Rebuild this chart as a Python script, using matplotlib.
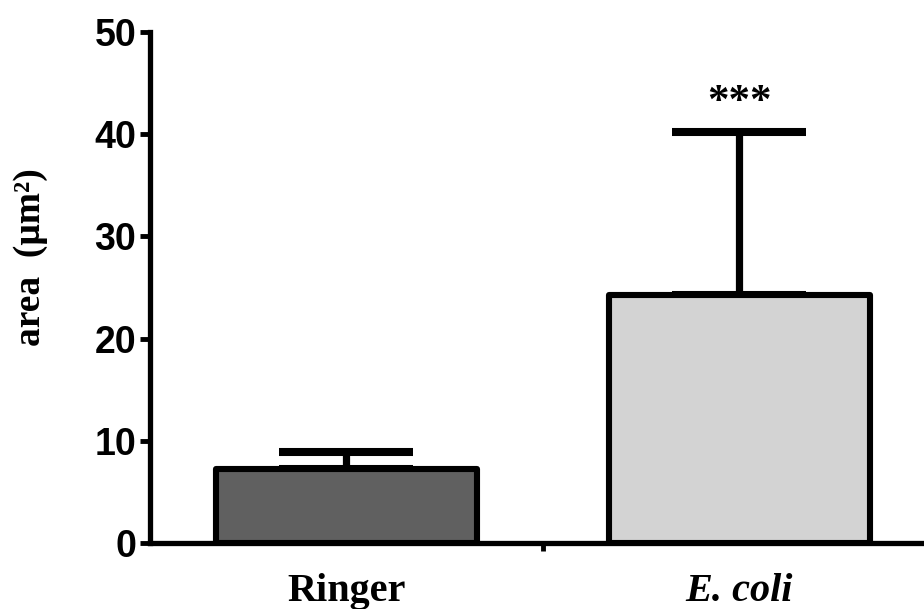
import matplotlib
matplotlib.use("Agg")
import matplotlib.pyplot as plt
from matplotlib import font_manager as fm
from matplotlib.ticker import MultipleLocator

# Mean lesion area with error (SD) for each treatment
categories = ["Ringer", "E. coli"]
means = [7.24, 24.3]
errors = [1.71, 15.9]
fill_colors = ["#606060", "#d3d3d3"]
significance = ["", "***"]


def find_font(name, bold=True, italic=False):
    for f in fm.fontManager.ttflist:
        if f.name == name and (f.weight >= 600) == bold and \
                (f.style != "normal") == italic:
            return fm.FontProperties(fname=f.fname)
    return fm.FontProperties(family=name, weight="bold" if bold else "normal",
                             style="italic" if italic else "normal")


sans_bold = find_font("Liberation Sans", bold=True)
serif_bold = find_font("Liberation Serif", bold=True)
serif_bold_italic = find_font("Liberation Serif", bold=True, italic=True)

DPI = 100
fig = plt.figure(figsize=(9.24, 6.09), dpi=DPI)
ax = fig.add_axes([150 / 924, 66 / 609, 1 - 150 / 924 + 0.002, 511 / 609])

lw = 4.4
x = list(range(len(categories)))
ax.bar(x, means, width=0.665, color=fill_colors, edgecolor="black",
       linewidth=lw, zorder=2, joinstyle="round")
ax.errorbar(x, means, yerr=[[0] * len(errors), errors], fmt="none",
            ecolor="black", elinewidth=5.2, capsize=48, capthick=5.8,
            zorder=1)

for xi, m, e, s in zip(x, means, errors, significance):
    if s:
        fp = serif_bold.copy()
        fp.set_size(31)
        ax.annotate(s, (xi, m + e), xytext=(0, 14), textcoords="offset points",
                    ha="center", va="baseline", fontproperties=fp)

ax.set_xlim(-0.5, 1.475)
ax.set_ylim(0, 50)
ax.yaxis.set_major_locator(MultipleLocator(10))
ax.set_xticks([0.5])
ax.set_xticklabels([""])
ax.tick_params(axis="x", direction="out", length=6, width=3.5)
ax.tick_params(axis="y", direction="out", length=7, width=3.5, pad=3)
tick_fp = sans_bold.copy()
tick_fp.set_size(27)
for lab in ax.get_yticklabels():
    lab.set_fontproperties(tick_fp)

for side in ("top", "right"):
    ax.spines[side].set_visible(False)
for side in ("left", "bottom"):
    ax.spines[side].set_linewidth(3.8)
    ax.spines[side].set_zorder(3)

# Category labels under each bar
for xi, name, base in zip(x, categories, [serif_bold, serif_bold_italic]):
    fp = base.copy()
    fp.set_size(29)
    ax.annotate(name, (xi, 0), xytext=(0, -42), textcoords="offset points",
                ha="center", va="baseline", fontproperties=fp,
                annotation_clip=False)

ylab_fp = serif_bold.copy()
ylab_fp.set_size(27)
fig.text(31 / 924, 1 - 257 / 609, "area  (μm²)", rotation=90,
         ha="center", va="center", fontproperties=ylab_fp)

fig.savefig("out.png", dpi=DPI)
